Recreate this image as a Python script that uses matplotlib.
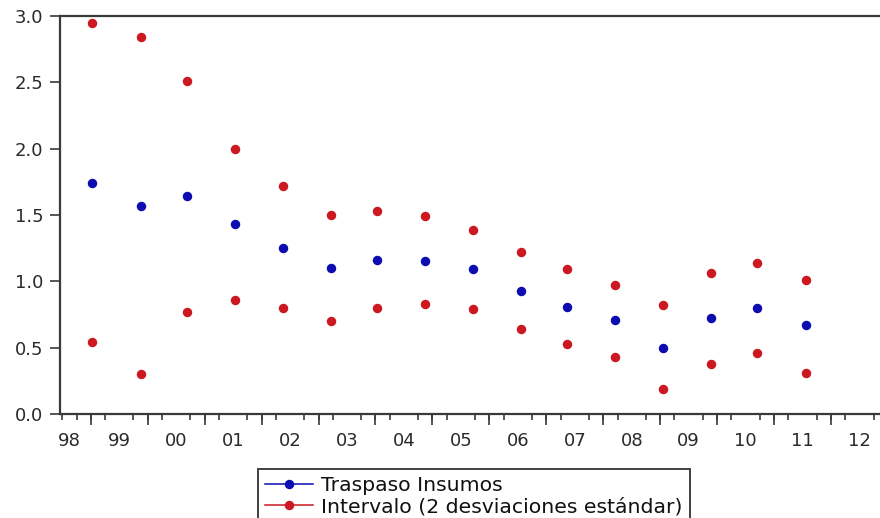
import numpy as np
import matplotlib
matplotlib.use("Agg")
import matplotlib.pyplot as plt
from matplotlib.lines import Line2D
from matplotlib.ticker import MultipleLocator, FormatStrFormatter

plt.rcParams['font.family'] = ['DejaVu Sans']

# point dates (fraction of year) and estimates
fechas = [1999.03, 1999.88, 2000.69, 2001.53, 2002.37, 2003.22, 2004.03, 2004.87,
          2005.71, 2006.55, 2007.36, 2008.21, 2009.05, 2009.89, 2010.70, 2011.56]
traspaso = [1.74, 1.57, 1.64, 1.43, 1.25, 1.10, 1.16, 1.15,
            1.09, 0.93, 0.81, 0.71, 0.50, 0.72, 0.80, 0.67]
banda_sup = [2.95, 2.84, 2.51, 2.00, 1.72, 1.50, 1.53, 1.49,
             1.39, 1.22, 1.09, 0.97, 0.82, 1.06, 1.14, 1.01]
banda_inf = [0.54, 0.30, 0.77, 0.86, 0.80, 0.70, 0.80, 0.83,
             0.79, 0.64, 0.53, 0.43, 0.19, 0.38, 0.46, 0.31]
anios = np.arange(1998, 2013)
etiquetas = ['98', '99', '00', '01', '02', '03', '04', '05',
             '06', '07', '08', '09', '10', '11', '12']

azul = '#0c0cb0'
rojo = '#cc1820'
gris = '#3a3a3a'
texto = '#2a2a2a'

fig = plt.figure(figsize=(8.8, 5.18), dpi=100)
# axes runs a little past the right edge, like the cropped original
ax = fig.add_axes([60/880, 104/518, 828/880, 398/518])

ax.plot(fechas, traspaso, ls='none', marker='o', ms=5.8, color=azul, mec=azul)
ax.plot(fechas, banda_sup, ls='none', marker='o', ms=5.8, color=rojo, mec=rojo)
ax.plot(fechas, banda_inf, ls='none', marker='o', ms=5.8, color=rojo, mec=rojo)

x0, x1 = 1998.46, 2013.0
ax.set_xlim(x0, x1)
ax.set_ylim(0, 3.0)

for s in ['left', 'top', 'bottom']:
    ax.spines[s].set_color(gris)
    ax.spines[s].set_linewidth(1.6)
ax.spines['right'].set_visible(False)

# y axis
ax.yaxis.set_major_locator(MultipleLocator(0.5))
ax.yaxis.set_major_formatter(FormatStrFormatter('%.1f'))
ax.tick_params(axis='y', direction='out', length=7, width=1.2, color=gris,
               labelsize=13, labelcolor=texto, pad=5)

# x axis: labels centred in each year (first one in its visible part),
# quarter ticks, long ticks at the start of every year
pos = np.maximum(anios + 0.5, x0 + 0.16)
ax.set_xticks(pos)
ax.set_xticklabels(etiquetas)
ax.set_xticks(np.arange(1998.5, x1 + 0.01, 0.25), minor=True)
ax.tick_params(axis='x', which='major', length=0, labelsize=13,
               labelcolor=texto, pad=13)
ax.tick_params(axis='x', which='minor', direction='out', length=4, width=1.2,
               color=gris)
sec = ax.secondary_xaxis('bottom')
sec.set_xticks(anios[1:])
sec.set_xticklabels([])
sec.tick_params(direction='out', length=8, width=1.2, color=gris)
sec.spines['bottom'].set_visible(False)

handles = [Line2D([], [], color=azul, marker='o', ms=5.8, lw=1.1),
           Line2D([], [], color=rojo, marker='o', ms=5.8, lw=1.1)]
leg = fig.legend(handles, ['Traspaso Insumos',
                           'Intervalo (2 desviaciones estándar)'],
                 loc='upper left', bbox_to_anchor=(258/880, 1 - 469/518),
                 fontsize=14.7, frameon=True, fancybox=False, shadow=False,
                 handlelength=2.35, handletextpad=0.4, labelspacing=0.12,
                 borderpad=0.35, borderaxespad=0, labelcolor='#111111')
leg.get_frame().set_edgecolor('#111111')
leg.get_frame().set_linewidth(1.4)

fig.savefig('out.png', dpi=100)
